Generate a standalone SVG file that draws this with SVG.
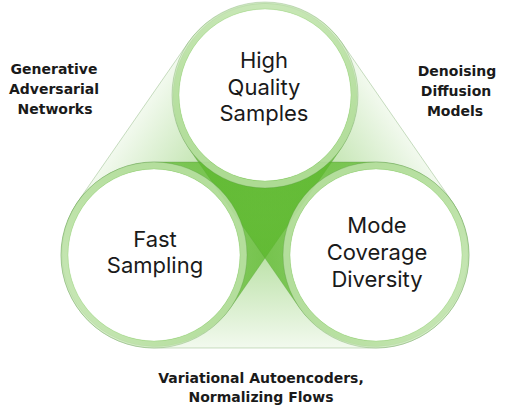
<svg xmlns="http://www.w3.org/2000/svg" width="510" height="409" viewBox="0 0 510 409">
  <style>
    .band { stroke: #4f8f3a; stroke-opacity: 0.3; stroke-width: 1; }
    .core { fill: #ffffff; }
    .ring { fill: none; stroke: #cce8bb; stroke-opacity: 0.7; stroke-width: 7; }
    .edge { fill: none; stroke: #4f8f3a; stroke-opacity: 0.28; stroke-width: 1; }
    .iedge { fill: none; stroke: #5cb82c; stroke-opacity: 0.2; stroke-width: 1; }
    .ctext { font-family: Inter, "DejaVu Sans", sans-serif; font-size: 22px; fill: #1a1a1a; text-anchor: middle; }
    .ltext { font-family: "DejaVu Sans", "Liberation Sans", sans-serif; font-size: 14px; font-weight: bold; fill: #1a1a1a; text-anchor: middle; }
  </style>
  <defs>
    <linearGradient id="gBottom" gradientUnits="userSpaceOnUse" x1="265" y1="162" x2="265" y2="348">
      <stop offset="0" stop-color="#5cb82c" stop-opacity="0.74"/>
      <stop offset="1" stop-color="#5cb82c" stop-opacity="0.08"/>
    </linearGradient>
    <linearGradient id="gLeft" gradientUnits="userSpaceOnUse" x1="285.9" y1="228" x2="133.1" y2="122">
      <stop offset="0" stop-color="#5cb82c" stop-opacity="0.74"/>
      <stop offset="1" stop-color="#5cb82c" stop-opacity="0.08"/>
    </linearGradient>
    <linearGradient id="gRight" gradientUnits="userSpaceOnUse" x1="244.1" y1="228" x2="396.9" y2="122">
      <stop offset="0" stop-color="#5cb82c" stop-opacity="0.74"/>
      <stop offset="1" stop-color="#5cb82c" stop-opacity="0.08"/>
    </linearGradient>
  </defs>

  <g id="connectors">
    <path id="band-gan" class="band" fill="url(#gLeft)" d="M188.6,42 L77.6,202 A93,93 0 0 0 230.4,308 L341.4,148 A93,93 0 0 0 188.6,42 Z"/>
    <path id="band-diffusion" class="band" fill="url(#gRight)" d="M341.4,42 L452.4,202 A93,93 0 0 1 299.6,308 L188.6,148 A93,93 0 0 1 341.4,42 Z"/>
    <path id="band-vae" class="band" fill="url(#gBottom)" d="M154,162 L376,162 A93,93 0 0 1 376,348 L154,348 A93,93 0 0 1 154,162 Z"/>
  </g>

  <g id="node-quality">
    <circle class="core" cx="265" cy="95" r="86"/>
    <circle class="ring" cx="265" cy="95" r="89.5"/>
    <circle class="edge" cx="265" cy="95" r="93"/>
    <circle class="iedge" cx="265" cy="95" r="86"/>
    <text class="ctext" x="264" y="68">High</text>
    <text class="ctext" x="264" y="95">Quality</text>
    <text class="ctext" x="264" y="121">Samples</text>
  </g>

  <g id="node-fast">
    <circle class="core" cx="154" cy="255" r="86"/>
    <circle class="ring" cx="154" cy="255" r="89.5"/>
    <circle class="edge" cx="154" cy="255" r="93"/>
    <circle class="iedge" cx="154" cy="255" r="86"/>
    <text class="ctext" x="155" y="247">Fast</text>
    <text class="ctext" x="155" y="273">Sampling</text>
  </g>

  <g id="node-diversity">
    <circle class="core" cx="376" cy="255" r="86"/>
    <circle class="ring" cx="376" cy="255" r="89.5"/>
    <circle class="edge" cx="376" cy="255" r="93"/>
    <circle class="iedge" cx="376" cy="255" r="86"/>
    <text class="ctext" x="377" y="233">Mode</text>
    <text class="ctext" x="377" y="260">Coverage</text>
    <text class="ctext" x="377" y="287">Diversity</text>
  </g>

  <g id="label-gan">
    <text class="ltext" x="54" y="74">Generative</text>
    <text class="ltext" x="54" y="94">Adversarial</text>
    <text class="ltext" x="55" y="114">Networks</text>
  </g>

  <g id="label-diffusion">
    <text class="ltext" x="457" y="76">Denoising</text>
    <text class="ltext" x="456" y="96">Diffusion</text>
    <text class="ltext" x="455" y="116">Models</text>
  </g>

  <g id="label-vae">
    <text class="ltext" x="261" y="383">Variational Autoencoders,</text>
    <text class="ltext" x="261" y="402">Normalizing Flows</text>
  </g>
</svg>
